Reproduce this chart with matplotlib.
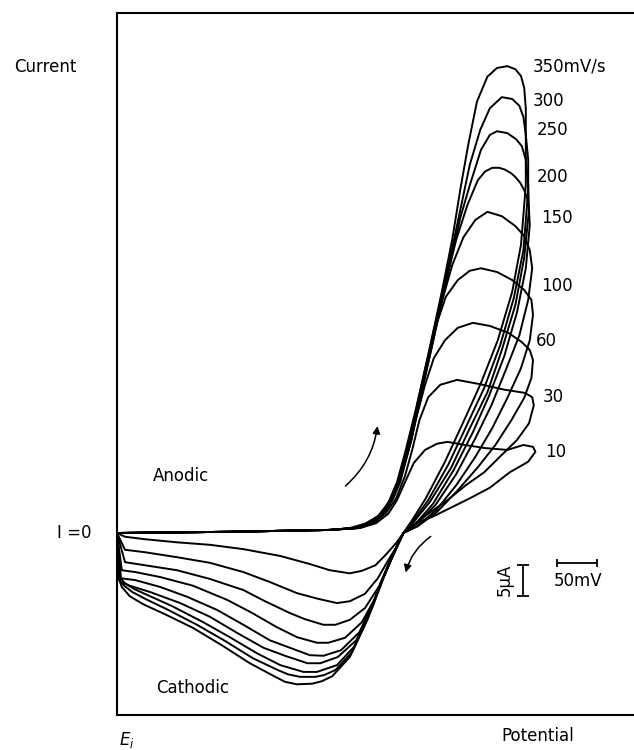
import numpy as np
import matplotlib.pyplot as plt
from matplotlib.patches import FancyArrowPatch

plt.rcParams['font.family'] = ['DejaVu Sans']
plt.rcParams['mathtext.fontset'] = 'dejavusans'

# scan rates in mV/s, one closed voltammogram per rate
scan_rates = [10, 30, 60, 100, 150, 200, 250, 300, 350]
rate_labels = ['10', '30', '60', '100', '150', '200', '250', '300', '350mV/s']

# potential (mV from E_i) and current (uA) along each loop:
# anodic sweep -> switching point -> reverse sweep -> back to E_i
e_10 = [0, 141, 266, 304, 324, 339, 350, 360, 371, 385, 400, 413, 435, 460, 488, 508, 520, 523,
        514, 491, 466, 441, 416, 394, 374, 358,
        349, 336, 323, 306, 291, 266, 241, 204, 158, 116, 75, 35, 10, 0]
i_10 = [0, 0.2, 0.5, 0.8, 1.6, 3.1, 5.3, 8.2, 11.3, 13.4, 14.4, 14.7, 14.2, 13.7, 13.4, 14.2, 13.9, 13.1,
        11.5, 9.8, 7.3, 5.6, 4.0, 2.6, 1.6, 0,
        -1.6, -3.5, -5.2, -6.1, -6.5, -6.0, -5.0, -3.7, -2.6, -1.9, -1.5, -1.0, -0.6, 0]

e_30 = [0, 141, 266, 301, 321, 336, 349, 360, 369, 378, 389, 404, 425, 454, 485, 510, 519, 521,
        515, 500, 481, 459, 436, 413, 389, 370, 358,
        349, 339, 326, 310, 291, 275, 251, 225, 191, 158, 116, 75, 35, 10, 0]
i_30 = [0, 0.2, 0.5, 0.8, 1.6, 3.2, 5.6, 9.2, 13.4, 18.2, 21.9, 23.9, 24.7, 24.0, 23.1, 22.6, 21.9, 20.6,
        17.7, 15.0, 12.6, 9.8, 7.7, 5.3, 3.1, 1.3, 0,
        -2.3, -4.4, -7.3, -9.8, -11.0, -11.3, -10.6, -9.7, -7.9, -6.3, -4.8, -3.9, -3.1, -2.7, 0]

e_60 = [0, 141, 266, 300, 319, 334, 345, 354, 364, 374, 385, 396, 410, 426, 445, 466, 489, 506, 516, 520,
        518, 509, 493, 473, 451, 426, 400, 376, 358,
        348, 339, 328, 310, 291, 273, 258, 235, 216, 185, 158, 116, 75, 35, 10, 0]
i_60 = [0, 0.2, 0.5, 0.8, 1.6, 3.2, 5.5, 8.2, 13.1, 18.5, 23.9, 28.2, 31.1, 33.1, 33.9, 33.4, 32.3, 30.8, 29.5, 27.9,
        25.0, 21.8, 18.2, 14.2, 10.6, 6.9, 3.4, 1.1, 0,
        -2.7, -5.2, -8.5, -12.1, -14.0, -14.8, -14.8, -13.9, -12.9, -11.0, -9.2, -7.4, -6.0, -5.2, -4.7, 0]

e_100 = [0, 141, 266, 299, 318, 334, 346, 356, 368, 378, 388, 399, 411, 426, 441, 455, 475, 494, 509, 518, 520,
         516, 505, 488, 469, 448, 424, 399, 375, 358,
         346, 336, 324, 306, 285, 264, 250, 225, 200, 169, 138, 95, 54, 23, 6, 0]
i_100 = [0, 0.2, 0.5, 0.8, 1.6, 3.2, 5.8, 9.7, 15.0, 21.5, 27.9, 33.5, 38.1, 40.8, 42.3, 42.7, 42.1, 40.8, 39.2, 37.6, 35.2,
         31.1, 26.6, 21.8, 16.9, 12.3, 7.7, 3.7, 1.1, 0,
         -3.1, -6.1, -10.2, -14.4, -16.9, -17.7, -17.7, -16.8, -15.2, -12.9, -10.8, -8.5, -7.1, -6.3, -6.0, 0]

e_150 = [0, 141, 266, 298, 316, 333, 345, 356, 368, 380, 394, 405, 419, 433, 448, 463, 481, 498, 509, 516, 519,
         514, 503, 486, 468, 448, 424, 398, 375, 358,
         345, 334, 320, 303, 280, 258, 241, 216, 191, 158, 125, 88, 54, 23, 5, 0]
i_150 = [0, 0.2, 0.5, 0.8, 1.6, 3.2, 5.8, 9.5, 15.0, 22.3, 30.3, 36.8, 43.2, 47.7, 50.5, 51.8, 51.1, 49.5, 47.9, 45.6, 42.7,
         37.6, 31.9, 26.3, 20.6, 15.3, 9.5, 4.5, 1.5, 0,
         -3.4, -6.8, -11.3, -16.0, -18.9, -19.8, -19.7, -18.5, -17.3, -14.8, -12.4, -10.3, -8.7, -7.6, -7.3, 0]

e_200 = [0, 141, 266, 296, 315, 331, 344, 355, 366, 379, 394, 410, 424, 438, 451, 460, 469, 478, 485, 493, 498, 504,
         509, 513, 515, 516,
         511, 500, 484, 465, 445, 421, 395, 374, 358,
         345, 333, 318, 299, 276, 254, 238, 210, 183, 150, 116, 79, 41, 16, 4, 0]
i_200 = [0, 0.2, 0.5, 0.8, 1.6, 3.1, 5.6, 9.4, 14.8, 22.3, 30.8, 40.0, 47.3, 52.9, 56.9, 58.3, 58.9, 58.9, 58.6, 58.0, 57.4, 56.5,
         55.3, 53.9, 52.0, 49.7,
         42.7, 35.6, 28.5, 22.1, 16.3, 10.2, 4.7, 1.6, 0,
         -3.5, -7.3, -12.4, -17.3, -20.0, -21.0, -21.0, -19.8, -18.5, -16.1, -13.5, -11.3, -9.5, -8.5, -7.9, 0]

e_250 = [0, 141, 266, 295, 314, 330, 343, 354, 365, 379, 394, 411, 429, 441, 455, 466, 475, 488, 499, 506, 511, 514, 515,
         509, 498, 481, 463, 441, 418, 391, 371, 358,
         344, 331, 315, 296, 275, 250, 233, 204, 175, 141, 108, 69, 38, 21, 10, 3, 0]
i_250 = [0, 0.2, 0.5, 0.8, 1.6, 3.1, 5.6, 9.2, 14.7, 21.8, 30.3, 40.3, 50.8, 56.1, 61.8, 64.2, 64.8, 64.5, 63.5, 62.4, 60.2, 56.1, 52.1,
         44.4, 36.8, 29.5, 22.7, 16.9, 10.6, 5.0, 1.8, 0,
         -3.7, -7.6, -13.2, -18.4, -21.3, -22.4, -22.4, -21.3, -19.4, -16.8, -14.4, -11.8, -10.0, -9.0, -8.1, -7.1, 0]

e_300 = [0, 141, 266, 294, 313, 329, 341, 353, 364, 376, 391, 409, 426, 441, 454, 466, 481, 494, 503, 508, 511, 514, 514,
         508, 496, 479, 459, 438, 414, 389, 370, 358,
         344, 330, 313, 294, 273, 259, 248, 229, 214, 201, 170, 135, 100, 64, 35, 19, 9, 1, 0]
i_300 = [0, 0.2, 0.5, 0.8, 1.5, 2.9, 5.3, 8.9, 14.2, 21.1, 29.8, 40.0, 50.2, 59.4, 65.0, 68.5, 70.3, 70.0, 68.9, 67.1, 64.2, 60.2, 55.3,
         45.6, 37.9, 30.3, 23.4, 17.6, 11.0, 5.3, 1.9, 0,
         -3.9, -8.1, -14.0, -19.2, -22.1, -22.9, -23.2, -23.2, -22.8, -22.1, -20.2, -17.4, -14.8, -12.4, -10.6, -9.5, -8.5, -7.3, 0]

e_350 = [0, 141, 266, 291, 310, 326, 339, 350, 361, 374, 389, 406, 419, 429, 439, 450, 463, 475, 488, 498, 505, 509, 511, 511, 511,
         505, 494, 476, 455, 434, 410, 386, 369, 358,
         344, 329, 311, 291, 269, 256, 244, 225, 210, 198, 166, 131, 95, 60, 33, 16, 6, 1, 0]
i_350 = [0, 0.2, 0.5, 0.8, 1.5, 2.7, 4.8, 8.2, 13.4, 20.2, 28.7, 38.9, 47.3, 55.3, 62.6, 69.6, 73.6, 75.0, 75.3, 74.8, 73.7, 71.8, 68.5, 64.2, 56.1,
         46.5, 38.9, 31.1, 24.2, 18.2, 11.5, 5.6, 2.1, 0,
         -4.0, -8.4, -14.4, -20.0, -23.1, -23.9, -24.3, -24.4, -24.0, -23.2, -21.0, -18.1, -15.3, -13.1, -11.5, -10.2, -8.7, -6.9, 0]

potentials = [e_10, e_30, e_60, e_100, e_150, e_200, e_250, e_300, e_350]
currents = [i_10, i_30, i_60, i_100, i_150, i_200, i_250, i_300, i_350]

# where each rate label sits (mV, uA)
label_e = [535, 532, 524, 530, 530, 525, 525, 520, 519]
label_i = [13.1, 21.9, 31.0, 39.8, 50.8, 57.4, 65.0, 69.7, 75.3]

fig = plt.figure(figsize=(6.34, 7.5), dpi=100)
ax = fig.add_axes([117 / 634, 35 / 750, 523 / 634, 702 / 750])
ax.set_xlim(0, 653.75)
ax.set_ylim(-29.35, 83.87)
ax.set_xticks([])
ax.set_yticks([])
ax.spines['right'].set_visible(False)
for s in ['left', 'top', 'bottom']:
    ax.spines[s].set_linewidth(1.5)

for e, i in zip(potentials, currents):
    ax.plot(e, i, color='black', lw=1.4, solid_joinstyle='round', solid_capstyle='round')

for lab, x, y in zip(rate_labels, label_e, label_i):
    ax.text(x, y, lab, fontsize=12, ha='left', va='center')

# sweep direction arrows
ax.add_patch(FancyArrowPatch((283, 7.3), (326, 17.7), arrowstyle='-|>', mutation_scale=11,
                             connectionstyle='arc3,rad=0.2', color='black', lw=1.1))
ax.add_patch(FancyArrowPatch((395, -0.3), (360, -6.8), arrowstyle='-|>', mutation_scale=11,
                             connectionstyle='arc3,rad=0.2', color='black', lw=1.1))

# scale bars: 5 uA and 50 mV
ax.errorbar([507.5], [-7.6], yerr=[2.5], color='black', lw=1.3, capsize=4, capthick=1.3)
ax.errorbar([575], [-4.8], xerr=[25], color='black', lw=1.3, capsize=3, capthick=1.3)
ax.text(485, -7.6, '5µA', fontsize=12, rotation=90, ha='center', va='center')
ax.text(576, -7.8, '50mV', fontsize=12, ha='center', va='center')

ax.text(80, 9.2, 'Anodic', fontsize=12, ha='center', va='center')
ax.text(94, -25.0, 'Cathodic', fontsize=12, ha='center', va='center')
ax.text(-90, 75.2, 'Current', fontsize=12, ha='center', va='center', clip_on=False)
ax.text(-54, 0, 'I =0', fontsize=12, ha='center', va='center', clip_on=False)
ax.text(12, -33.4, r'$E_i$', fontsize=12, ha='center', va='center', clip_on=False)
ax.text(526, -32.7, 'Potential', fontsize=12, ha='center', va='center', clip_on=False)

fig.savefig('out.png', dpi=100)
